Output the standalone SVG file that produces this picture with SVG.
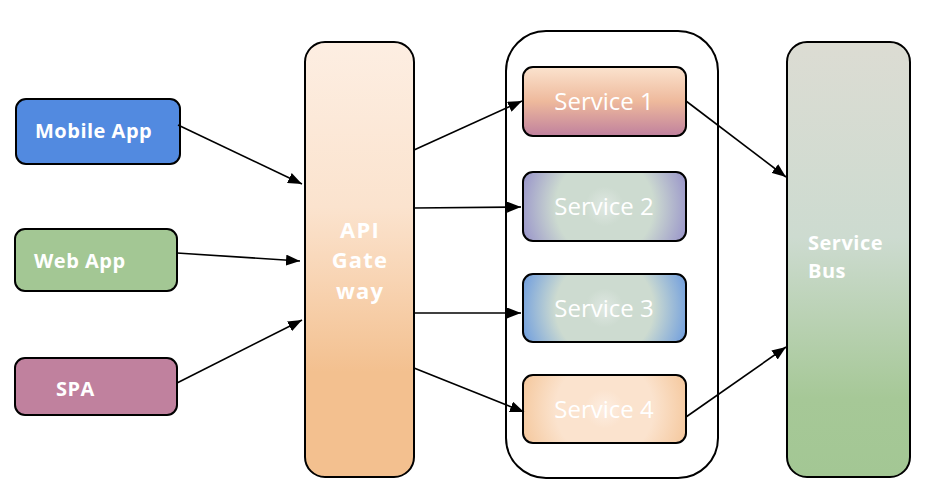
<svg xmlns="http://www.w3.org/2000/svg" width="942" height="487" viewBox="0 0 942 487">
<style>
.box{stroke:#000;stroke-width:2}
.lbl{font-family:"Open Sans","Liberation Sans",sans-serif;font-weight:bold;font-size:20px;letter-spacing:0.5px;fill:#fff}
.svc{font-family:"Open Sans","Liberation Sans",sans-serif;font-size:24px;fill:#fff;text-anchor:middle}
.big{font-family:"Open Sans","Liberation Sans",sans-serif;font-weight:bold;font-size:22px;letter-spacing:1.2px;fill:#fff;text-anchor:middle}
.con{stroke:#000;stroke-width:1.6;fill:none;marker-end:url(#ah)}
</style>
<defs>
<marker id="ah" viewBox="0 0 10 10" refX="10" refY="5" markerWidth="14" markerHeight="11" markerUnits="userSpaceOnUse" orient="auto" preserveAspectRatio="none">
<path d="M0,0 L10,5 L0,10 z" fill="#000"/>
</marker>
<linearGradient id="gw" x1="0" y1="0" x2="0" y2="1">
<stop offset="0" stop-color="#fdeee2"/>
<stop offset="0.38" stop-color="#fbe3ce"/>
<stop offset="0.55" stop-color="#f8d4b3"/>
<stop offset="0.76" stop-color="#f3c08f"/>
<stop offset="1" stop-color="#f3c08f"/>
</linearGradient>
<linearGradient id="gb" x1="0" y1="0" x2="0" y2="1">
<stop offset="0" stop-color="#dcdcd3"/>
<stop offset="0.45" stop-color="#cddbd0"/>
<stop offset="0.82" stop-color="#a6c897"/>
<stop offset="1" stop-color="#a3c794"/>
</linearGradient>
<linearGradient id="g1" x1="0" y1="0" x2="0" y2="1">
<stop offset="0" stop-color="#fbe3ce"/>
<stop offset="0.5" stop-color="#eeb99c"/>
<stop offset="1" stop-color="#c0819e"/>
</linearGradient>
<radialGradient id="g2" cx="0.5" cy="0.5" r="0.6" gradientTransform="translate(0.5 0.5) scale(1 2.4) translate(-0.5 -0.5)">
<stop offset="0" stop-color="#dfe8e2"/>
<stop offset="0.2" stop-color="#cddbd0"/>
<stop offset="0.5" stop-color="#cddbd0"/>
<stop offset="1" stop-color="#8a80c8"/>
</radialGradient>
<radialGradient id="g3" cx="0.5" cy="0.5" r="0.6" gradientTransform="translate(0.5 0.5) scale(1 2.4) translate(-0.5 -0.5)">
<stop offset="0" stop-color="#dfe8e2"/>
<stop offset="0.2" stop-color="#cddbd0"/>
<stop offset="0.5" stop-color="#cddbd0"/>
<stop offset="1" stop-color="#558ce2"/>
</radialGradient>
<radialGradient id="g4" cx="0.5" cy="0.5" r="0.6" gradientTransform="translate(0.5 0.5) scale(1 2.4) translate(-0.5 -0.5)">
<stop offset="0" stop-color="#fdeee2"/>
<stop offset="0.2" stop-color="#fbe3ce"/>
<stop offset="0.5" stop-color="#fbe3ce"/>
<stop offset="1" stop-color="#f3c08f"/>
</radialGradient>
</defs>

<g id="container">
<rect x="506" y="31" width="212" height="447" rx="40" fill="#fff" class="box"/>
</g>

<g id="mobile-app">
<rect x="16" y="99" width="164" height="65" rx="10" fill="#528ae0" class="box"/>
<text x="35" y="138" class="lbl">Mobile App</text>
</g>
<g id="web-app">
<rect x="15" y="229" width="162" height="62" rx="10" fill="#a3c794" class="box"/>
<text x="34" y="268" class="lbl">Web App</text>
</g>
<g id="spa">
<rect x="15" y="358" width="162" height="57" rx="10" fill="#c0819e" class="box"/>
<text x="56" y="396" class="lbl">SPA</text>
</g>

<g id="api-gateway">
<rect x="305" y="42" width="109" height="435" rx="20" fill="url(#gw)" class="box"/>
<text class="big"><tspan x="360" y="238">API</tspan><tspan x="360" y="268">Gate</tspan><tspan x="360" y="299">way</tspan></text>
</g>

<g id="service-1">
<rect x="523" y="67" width="163" height="69" rx="10" fill="url(#g1)" class="box"/>
<text x="604" y="110" class="svc">Service 1</text>
</g>
<g id="service-2">
<rect x="523" y="172" width="163" height="69" rx="10" fill="url(#g2)" class="box"/>
<text x="604" y="215" class="svc">Service 2</text>
</g>
<g id="service-3">
<rect x="523" y="274" width="163" height="68" rx="10" fill="url(#g3)" class="box"/>
<text x="604" y="317" class="svc">Service 3</text>
</g>
<g id="service-4">
<rect x="523" y="375" width="163" height="68" rx="10" fill="url(#g4)" class="box"/>
<text x="604" y="418" class="svc">Service 4</text>
</g>

<g id="service-bus">
<rect x="787" y="42" width="123" height="435" rx="20" fill="url(#gb)" class="box"/>
<text class="lbl"><tspan x="808" y="250">Service</tspan><tspan x="808" y="278">Bus</tspan></text>
</g>

<g id="connectors">
<line x1="178" y1="125" x2="302" y2="184" class="con"/>
<line x1="177" y1="253" x2="300" y2="261" class="con"/>
<line x1="177" y1="383" x2="302" y2="320" class="con"/>
<line x1="414" y1="150" x2="522" y2="101" class="con"/>
<line x1="414" y1="208" x2="521" y2="207" class="con"/>
<line x1="414" y1="313" x2="521" y2="313" class="con"/>
<line x1="414" y1="368" x2="524" y2="412" class="con"/>
<line x1="686" y1="101" x2="786" y2="177" class="con"/>
<line x1="686" y1="417" x2="786" y2="347" class="con"/>
</g>
</svg>
